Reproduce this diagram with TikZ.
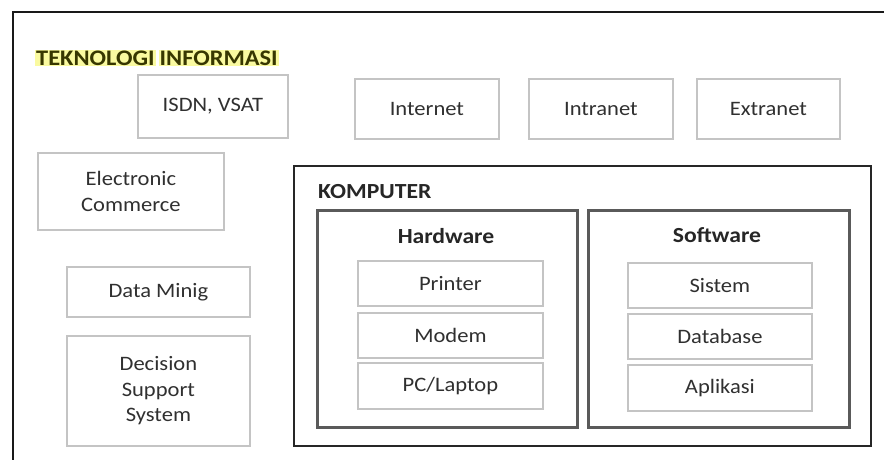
\documentclass[tikz,border=0pt]{standalone}
\usepackage{fontspec}
\setmainfont{Carlito}[FakeStretch=1.1]
\usetikzlibrary{positioning}
\definecolor{lbox}{HTML}{C4C4C4}
\definecolor{dbox}{HTML}{5A5A5A}
\definecolor{txt}{HTML}{303030}
\definecolor{hl}{HTML}{FAFAA0}
\newcommand{\hlword}[1]{{\setlength{\fboxsep}{1pt}\colorbox{hl}{#1}}}
\tikzset{
  lbox/.style={draw=lbox, line width=1.8pt, fill=white, text=txt, align=center, inner sep=0pt},
  dbox/.style={draw=dbox, line width=2.8pt, inner sep=0pt},
  kbox/.style={draw=black!85, line width=2pt, inner sep=0pt},
  lbl/.style={font=\fontsize{21.5}{24}\selectfont\bfseries, text=black!85, inner sep=0pt},
}
\newcommand{\boxat}[6]{\node[lbox, minimum width={#4-#2}, minimum height={#5-#3}, anchor=north west, font=\fontsize{20.5}{25.5}\selectfont] (#1) at (#2,#3) {#6};}
\begin{document}
\begin{tikzpicture}[x=1pt,y=-1pt]
\useasboundingbox (0,0) rectangle (884,459);
\begin{scope}
\clip (0,0) rectangle (884,459);
\draw[black!90, line width=2.4pt] (13,12) rectangle (900,480);
\end{scope}
\node[anchor=west, font=\fontsize{22.2}{24}\selectfont\bfseries, text={rgb,255:red,55;green,55;blue,0}, inner sep=0pt] (ti) at (35,58) {\hlword{TEKNOLOGI}\hspace{3pt}\hlword{INFORMASI}};
\boxat{isdn}{137}{74}{287}{137}{ISDN, VSAT}
\boxat{inet}{354}{78}{498}{138}{Internet}
\boxat{intra}{528}{78}{672}{138}{Intranet}
\boxat{extra}{696}{78}{839}{138}{Extranet}
\boxat{ecom}{37}{152}{223}{229}{Electronic\\Commerce}
\boxat{dm}{66}{266}{249}{316}{Data Minig}
\boxat{dss}{66}{335}{249}{445}{Decision\\Support\\System}
\node[kbox, minimum width=577, minimum height=280, anchor=north west] (komp) at (293,165) {};
\node[lbl, anchor=west] (kompl) at (318,192) {KOMPUTER};
\node[dbox, minimum width=260, minimum height=217, anchor=north west] (hw) at (316,209) {};
\node[lbl] (hwl) at (446,236) {Hardware};
\node[dbox, minimum width=261, minimum height=217, anchor=north west] (sw) at (587,209) {};
\node[lbl] (swl) at (717,235) {Software};
\boxat{printer}{357}{260}{542}{305}{Printer}
\boxat{modem}{357}{312}{542}{357}{Modem}
\boxat{pc}{357}{362}{542}{408}{PC/Laptop}
\boxat{sistem}{627}{262}{811}{307}{Sistem}
\boxat{db}{627}{313}{811}{358}{Database}
\boxat{apl}{627}{364}{811}{410}{Aplikasi}
\end{tikzpicture}
\end{document}
